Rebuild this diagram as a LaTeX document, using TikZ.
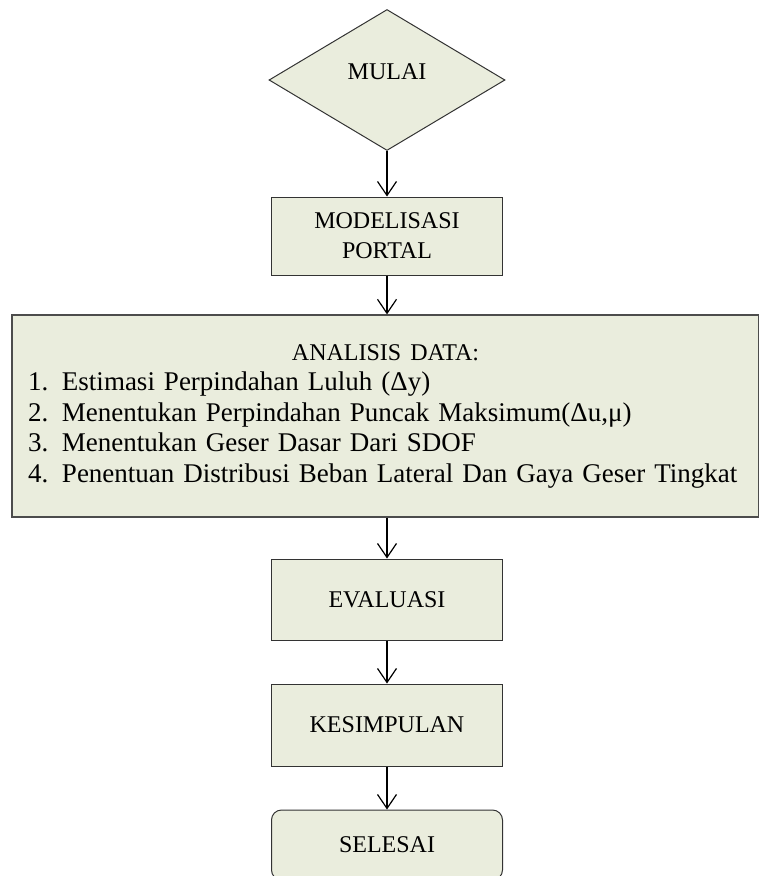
\documentclass[tikz,border=0pt]{standalone}
\usepackage{fontspec}
\setmainfont{Liberation Serif}
\usetikzlibrary{shapes.geometric,arrows.meta}
\definecolor{boxfill}{RGB}{234,237,221}
\newcommand{\itemno}[1]{\makebox[34pt][l]{#1}}
\begin{document}
\begin{tikzpicture}[x=1pt,y=-1pt,
		box/.style={
			draw=black!80,
			line width=1pt,
			fill=boxfill,
			align=center,
			minimum width=231pt,
			minimum height=81pt,
			inner sep=0pt,
			font=\fontsize{24}{30}\selectfont
		},
		startbox/.style={
			box,
			diamond,
			minimum width=236pt,
			minimum height=141pt
		},
		endbox/.style={
			box,
			rounded corners=10pt,
			minimum height=70pt
		},
		bigbox/.style={
			box,
			draw=black!70,
			line width=1.3pt,          % heavier frame
			align=left,
			minimum width=747pt,
			minimum height=202pt,
			text width=715pt,
			font=\fontsize{27}{30.5}\selectfont
		},
		flow/.style={draw, line width=1.2pt, -{Straight Barb[length=14pt,width=19pt]}}
		]
		
		\useasboundingbox (0,0) rectangle (759,876);
		
		% Start
		\node[startbox] (mulai) at (387,80) {\raisebox{8pt}[\height][\depth]{MULAI}};
		
		% Steps
		\node[box, minimum height=78pt] (model) at (387,236) {MODELISASI\\PORTAL};
		
		\node[bigbox] (analisis) at (385.5,416) 
		{\makebox[715pt][c]{\fontsize{24}{30.5}\selectfont ANALISIS DATA:}\\
			\itemno{1.}Estimasi Perpindahan Luluh (Δy)\\
			\itemno{2.}Menentukan Perpindahan Puncak Maksimum(Δu,μ)\\
			\itemno{3.}Menentukan Geser Dasar Dari SDOF\\
			\itemno{4.}Penentuan Distribusi Beban Lateral Dan Gaya Geser Tingkat};
		
		\node[box] (evaluasi) at (387,599.5) {EVALUASI};
		
		\node[box, minimum height=82pt] (simpulan) at (387,725) {KESIMPULAN};
		
		% End
		\node[endbox] (selesai) at (387,845) {SELESAI};
		
		% Flow lines
		\draw[flow] (mulai.south) -- (model.north);
		\draw[flow] (model.south) -- (model.south |- analisis.north);
		\draw[flow] (analisis.south -| evaluasi.north) -- (evaluasi.north);
		\draw[flow] (evaluasi.south) -- (simpulan.north);
		\draw[flow] (simpulan.south) -- (selesai.north);
		
	\end{tikzpicture}
\end{document}
